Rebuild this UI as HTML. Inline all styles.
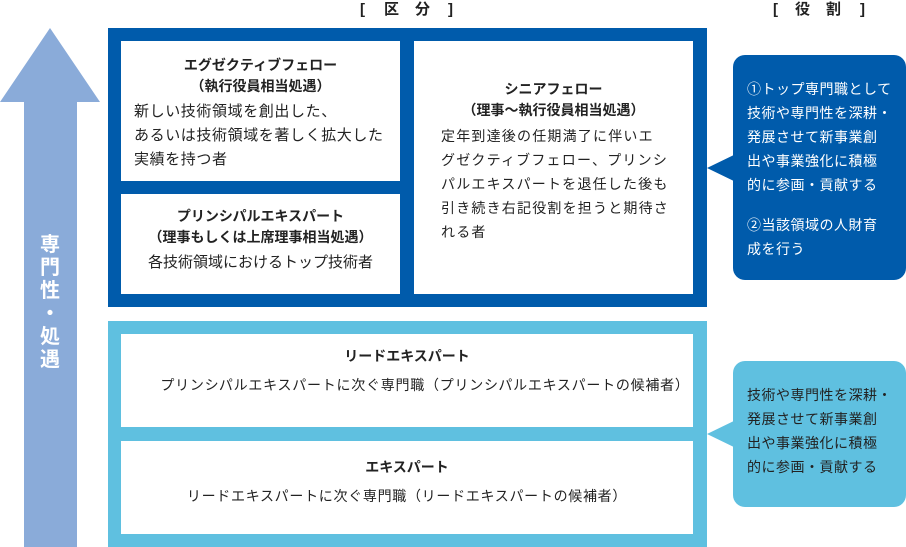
<!DOCTYPE html>
<html><head><meta charset="utf-8"><style>
body{margin:0;width:906px;height:547px;position:relative;background:#fff;font-family:"Liberation Sans","Noto Sans CJK JP",sans-serif;color:#222;overflow:hidden}
.a{position:absolute}
.box{position:absolute;background:#fff;text-align:center;font-size:14px}
.t{font-weight:bold;line-height:21px}
.b{line-height:24px}
.cl{position:absolute;color:#fff;font-size:14px;line-height:24px;border-radius:12px}
.h{position:absolute;top:0;font-size:15px;font-weight:bold;line-height:20px}
</style></head><body>
<span class="h" style="left:360px">[</span><span class="h" style="left:384px">区</span><span class="h" style="left:415px">分</span><span class="h" style="left:448px">]</span>
<span class="h" style="left:773px">[</span><span class="h" style="left:795px">役</span><span class="h" style="left:826px">割</span><span class="h" style="left:860px">]</span>
<svg class="a" style="left:0;top:0" width="906" height="547">
<polygon points="50,28 100,102 77,102 77,547 24,547 24,102 0,102" fill="#8aabd9"/>
<rect x="108" y="28" width="599" height="279" fill="#005bab"/>
<rect x="108" y="321" width="599" height="226" fill="#5fc0e0"/>
<polygon points="707,168 740,152 740,184" fill="#005bab"/>
<polygon points="707,434 740,418 740,450" fill="#5fc0e0"/>
</svg>
<div class="a" style="left:38px;top:234px;width:24px;color:#fff;font-weight:bold;font-size:20px;line-height:23px;text-align:center">専<br>門<br>性<br>・<br>処<br>遇</div>
<div class="box" style="left:121px;top:41px;width:279px;height:140px">
<div class="t" style="margin-top:14px">エグゼクティブフェロー<br>（執行役員相当処遇）</div>
<div class="b" style="text-align:left;padding-left:13px;margin-top:3px;font-size:15px;letter-spacing:0.6px;white-space:nowrap">新しい技術領域を創出した、<br>あるいは技術領域を著しく拡大した<br>実績を持つ者</div></div>
<div class="box" style="left:121px;top:194px;width:279px;height:100px">
<div class="t" style="margin-top:12px">プリンシパルエキスパート<br>（理事もしくは上席理事相当処遇）</div>
<div class="b" style="margin-top:3px;font-size:15px">各技術領域におけるトップ技術者</div></div>
<div class="box" style="left:414px;top:41px;width:279px;height:253px">
<div class="t" style="margin-top:38px">シニアフェロー<br>（理事～執行役員相当処遇）</div>
<div class="b" style="text-align:left;padding-left:27px;margin-top:3px;letter-spacing:1.2px;white-space:nowrap">定年到達後の任期満了に伴いエ<br>グゼクティブフェロー、プリンシ<br>パルエキスパートを退任した後も<br>引き続き右記役割を担うと期待さ<br>れる者</div></div>
<div class="box" style="left:121px;top:334px;width:572px;height:93px">
<div class="t" style="margin-top:12px">リードエキスパート</div>
<div class="b" style="margin-top:6px;letter-spacing:0.75px;padding-left:36px;white-space:nowrap">プリンシパルエキスパートに次ぐ専門職（プリンシパルエキスパートの候補者）</div></div>
<div class="box" style="left:121px;top:441px;width:572px;height:93px">
<div class="t" style="margin-top:16px">エキスパート</div>
<div class="b" style="margin-top:6px;letter-spacing:0.7px;white-space:nowrap">リードエキスパートに次ぐ専門職（リードエキスパートの候補者）</div></div>
<div class="cl" style="left:733px;top:55px;width:173px;height:225px;background:#005bab">
<div style="padding:22px 0 0 14px;letter-spacing:0.5px">①トップ専門職として<br>技術や専門性を深耕・<br>発展させて新事業創<br>出や事業強化に積極<br>的に参画・貢献する</div>
<div style="padding:16px 0 0 14px;letter-spacing:0.5px">②当該領域の人財育<br>成を行う</div></div>
<div class="cl" style="left:733px;top:361px;width:173px;height:146px;background:#5fc0e0;color:#222">
<div style="padding:22px 0 0 14px;letter-spacing:0.5px">技術や専門性を深耕・<br>発展させて新事業創<br>出や事業強化に積極<br>的に参画・貢献する</div></div>
</body></html>
